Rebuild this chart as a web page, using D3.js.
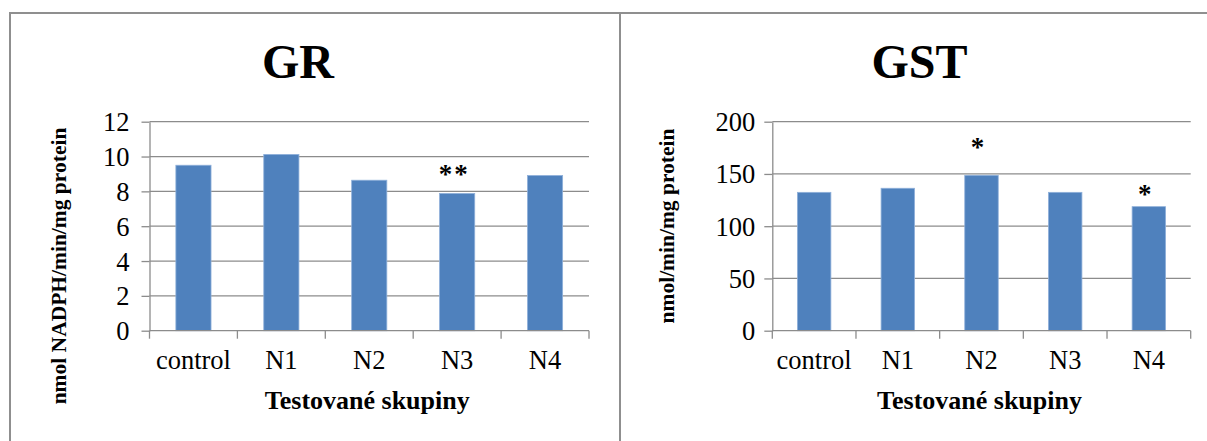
<!DOCTYPE html>
<html>
<head>
<meta charset="utf-8">
<script src="https://cdn.jsdelivr.net/npm/d3@7"></script>
<style>
  html, body { margin: 0; padding: 0; background: #fff; }
  svg { display: block; }
</style>
</head>
<body>
<svg id="chart" width="1207" height="441"></svg>
<script>
// Enzyme activity per test group
const categories = ["control", "N1", "N2", "N3", "N4"];
const grValues = [9.5, 10.12, 8.64, 7.88, 8.91];
const gstValues = [132.4, 136.3, 148.7, 132.4, 118.7];
const grTicks = [0, 2, 4, 6, 8, 10, 12];
const gstTicks = [0, 50, 100, 150, 200];
// significance marks: category, symbol, value at which the mark sits
const grMarks = [{ cat: "N3", text: "**", at: 8.5 }];
const gstMarks = [{ cat: "N2", text: "*", at: 167 }, { cat: "N4", text: "*", at: 122 }];

const serif = "'Liberation Serif', 'Times New Roman', serif";
const svg = d3.select("#chart").style("font-family", serif);
const gridColor = "#8c8c8c";
const barColor = "#4f81bd";

// panel frames
const frame = svg.append("g").attr("fill", "none").attr("stroke", "#8f8f8f").attr("stroke-width", 2);
frame.append("line").attr("x1", 10).attr("x2", 1207).attr("y1", 13).attr("y2", 13);
frame.append("line").attr("x1", 10).attr("x2", 10).attr("y1", 12).attr("y2", 441);
frame.append("line").attr("x1", 620).attr("x2", 620).attr("y1", 12).attr("y2", 441);

function drawPanel(opts) {
  const g = svg.append("g");
  const x = d3.scaleBand().domain(categories).range([opts.left, opts.right])
    .paddingInner(0.6).paddingOuter(0.3);
  const y = d3.scaleLinear().domain([0, d3.max(opts.ticks)]).range([opts.bottom, opts.top]);

  // horizontal gridlines
  g.append("g").selectAll("line").data(opts.ticks.filter(t => t > 0)).join("line")
    .attr("x1", opts.left).attr("x2", opts.right)
    .attr("y1", d => y(d)).attr("y2", d => y(d))
    .attr("stroke", gridColor).attr("stroke-width", 1.3);

  // bars
  g.append("g").selectAll("rect").data(opts.values).join("rect")
    .attr("x", (d, i) => x(categories[i]))
    .attr("width", x.bandwidth())
    .attr("y", d => y(d))
    .attr("height", d => y(0) - y(d))
    .attr("fill", barColor)
    .attr("stroke", "#8fb0da").attr("stroke-width", 0.8);

  // y axis
  const yAxis = g.append("g").attr("transform", `translate(${opts.left},0)`)
    .call(d3.axisLeft(y).tickValues(opts.ticks).tickSize(8).tickSizeOuter(0).tickPadding(opts.yPad));
  yAxis.attr("font-family", null).attr("font-size", null);
  yAxis.select(".domain").attr("stroke", gridColor).attr("stroke-width", 1.3);
  yAxis.selectAll(".tick line").attr("stroke", gridColor).attr("stroke-width", 1.3);
  yAxis.selectAll(".tick text")
    .style("font-family", serif).style("font-size", "26.5px").attr("fill", "#000").attr("dy", "0.34em");

  // x axis: baseline, ticks between categories, labels
  const xAxis = g.append("g").attr("transform", `translate(0,${opts.bottom})`)
    .call(d3.axisBottom(x).tickSize(0).tickPadding(19));
  xAxis.attr("font-family", null).attr("font-size", null);
  xAxis.select(".domain").remove();
  xAxis.selectAll(".tick text")
    .style("font-family", serif).style("font-size", "26.5px").attr("fill", "#000");
  xAxis.append("line").attr("x1", opts.left).attr("x2", opts.right)
    .attr("stroke", gridColor).attr("stroke-width", 1.3);
  const bounds = d3.range(categories.length + 1).map(i => opts.left + i * x.step());
  xAxis.append("g").selectAll("line").data(bounds).join("line")
    .attr("x1", d => d).attr("x2", d => d).attr("y1", 0).attr("y2", 8)
    .attr("stroke", gridColor).attr("stroke-width", 1.3);

  // significance marks
  g.append("g").selectAll("text").data(opts.marks).join("text")
    .attr("x", d => x(d.cat) + x.bandwidth() / 2 - 3)
    .attr("y", d => y(d.at))
    .attr("text-anchor", "middle")
    .style("font-size", "27px").style("font-weight", "bold")
    .style("letter-spacing", "2px")
    .text(d => d.text);

  // chart title
  g.append("text").attr("x", opts.titleX).attr("y", 78)
    .attr("text-anchor", "middle").style("font-size", "48px").style("font-weight", "bold")
    .text(opts.title);

  // axis titles
  g.append("text").attr("x", (opts.left + opts.right) / 2 - 2).attr("y", 409)
    .attr("text-anchor", "middle").style("font-size", "26px").style("font-weight", "bold")
    .text("Testované skupiny");
  g.append("text")
    .attr("transform", `translate(${opts.yTitleX},${opts.yTitleY}) rotate(-90)`)
    .attr("text-anchor", "middle").style("font-size", "21.5px").style("font-weight", "bold")
    .text(opts.yTitle);
}

drawPanel({
  left: 149.5, right: 589, top: 121.7, bottom: 330.7,
  values: grValues, ticks: grTicks, marks: grMarks, yPad: 12,
  title: "GR", titleX: 298,
  yTitle: "nmol NADPH/min/mg protein", yTitleX: 66, yTitleY: 266
});
drawPanel({
  left: 772.3, right: 1190.7, top: 121.7, bottom: 330.7,
  values: gstValues, ticks: gstTicks, marks: gstMarks, yPad: 9,
  title: "GST", titleX: 919.5,
  yTitle: "nmol/min/mg protein", yTitleX: 674, yTitleY: 226
});
</script>
</body>
</html>
